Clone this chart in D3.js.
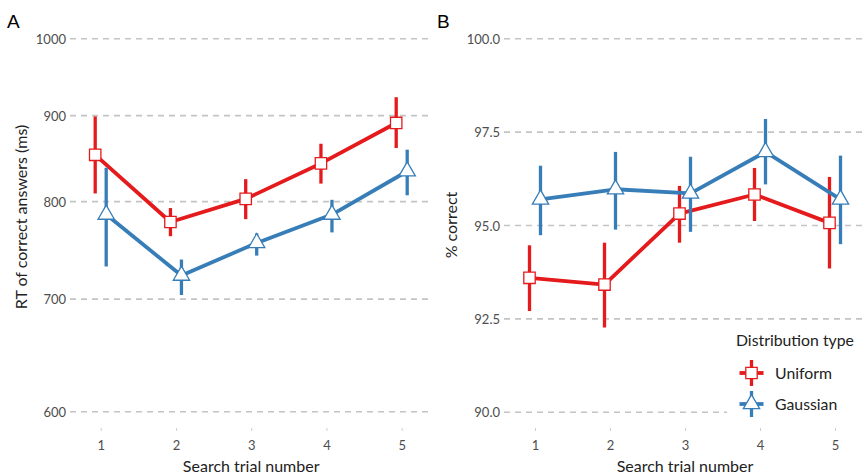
<!DOCTYPE html>
<html><head><meta charset="utf-8">
<script src="https://cdn.jsdelivr.net/npm/d3@7"></script>
<style>body{margin:0;background:#fff}svg{display:block}</style>
</head><body>
<svg id="c" width="865" height="476"></svg>
<script>
const trials = [1, 2, 3, 4, 5];
const seriesNames = ["Uniform", "Gaussian"];
// Panel A: RT of correct answers (ms)
const rtUniform = [853, 778, 803, 843, 891];
const rtUniformLo = [809, 763, 781, 820, 861];
const rtUniformHi = [899, 793, 825, 866, 923];
const rtGaussian = [786, 723, 756, 786, 834];
const rtGaussianLo = [732, 704, 743, 767, 807];
const rtGaussianHi = [838, 739, 766, 802, 859];
// Panel B: % correct
const pcUniform = [93.60, 93.42, 95.32, 95.83, 95.07];
const pcUniformLo = [92.71, 92.27, 94.54, 95.12, 93.85];
const pcUniformHi = [94.47, 94.54, 96.06, 96.54, 96.30];
const pcGaussian = [95.70, 95.97, 95.86, 96.97, 95.70];
const pcGaussianLo = [94.74, 94.89, 94.83, 96.10, 94.50];
const pcGaussianHi = [96.60, 96.97, 96.84, 97.85, 96.87];
const rtTicks = [600, 700, 800, 900, 1000];
const pcTicks = [90, 92.5, 95, 97.5, 100];
const colors = {Uniform: "#e41a1c", Gaussian: "#377eb8"};
const FONT = "Lato, 'Open Sans', sans-serif";

const svg = d3.select("#c");

function panel(opts) {
  const g = svg.append("g");
  const x = d3.scaleLinear().domain([1, 5]).range(opts.xRange);
  const y = opts.y;
  g.selectAll("line.grid").data(opts.ticks).join("line")
    .attr("x1", opts.gridX[0]).attr("x2", opts.gridX[1])
    .attr("y1", d => y(d)).attr("y2", d => y(d))
    .attr("stroke", "#c4c4c4").attr("stroke-width", 1.6).attr("stroke-dasharray", "6,5");
  const ya = g.append("g").attr("transform", `translate(${opts.gridX[0] - 4},0)`)
    .call(d3.axisLeft(y).tickValues(opts.ticks).tickFormat(opts.fmt).tickSize(0).tickPadding(0));
  ya.select(".domain").remove();
  ya.selectAll("text").attr("font-family", FONT).attr("font-size", 13).attr("fill", "#4d4d4d").attr("dy", "0.35em");
  const xa = g.append("g").attr("transform", `translate(0,${opts.axisY})`)
    .call(d3.axisBottom(x).tickValues(trials).tickFormat(d3.format("d")).tickSize(3).tickPadding(10));
  xa.select(".domain").remove();
  xa.selectAll("line").attr("stroke", "#cfcfcf").attr("stroke-width", 1);
  xa.selectAll("text").attr("font-family", FONT).attr("font-size", 13).attr("fill", "#4d4d4d");
  g.append("text").attr("x", (opts.xRange[0] + opts.xRange[1]) / 2).attr("y", 472)
    .attr("text-anchor", "middle").attr("font-family", FONT).attr("font-size", 16).attr("fill", "#222")
    .text("Search trial number");
  g.append("text").attr("transform", `translate(${opts.yTitleX},${opts.yTitleY}) rotate(-90)`)
    .attr("text-anchor", "middle").attr("font-family", FONT).attr("font-size", 16).attr("fill", "#222")
    .text(opts.yTitle);
  g.append("text").attr("x", opts.letterX).attr("y", 28).attr("font-family", "'Liberation Sans', Arial, sans-serif")
    .attr("font-size", 19).attr("fill", "#000").text(opts.letter);

  opts.series.forEach((s, si) => {
    const dx = si === 0 ? -5.5 : 5.5;
    const col = colors[s.name];
    const pts = trials.map((t, i) => ({t, v: s.v[i], lo: s.lo[i], hi: s.hi[i]}));
    const sg = g.append("g");
    sg.append("path").datum(pts)
      .attr("d", d3.line().x(d => x(d.t) + dx).y(d => y(d.v)))
      .attr("fill", "none").attr("stroke", col).attr("stroke-width", 3.8).attr("stroke-linejoin", "round");
    sg.selectAll("line.err").data(pts).join("line")
      .attr("x1", d => x(d.t) + dx).attr("x2", d => x(d.t) + dx)
      .attr("y1", d => y(d.lo)).attr("y2", d => y(d.hi))
      .attr("stroke", col).attr("stroke-width", 3.3);
    const sym = s.name === "Uniform" ? d3.symbolSquare : d3.symbolTriangle;
    const size = s.name === "Uniform" ? 130 : 115;
    sg.selectAll("path.pt").data(pts).join("path")
      .attr("transform", d => `translate(${x(d.t) + dx},${y(d.v)})`)
      .attr("d", d3.symbol().type(sym).size(size))
      .attr("fill", "#fff").attr("stroke", col).attr("stroke-width", 1.3);
  });
  return g;
}

const yA = d3.scaleLog().domain([600, 1000]).range([411.7, 38.7]);
panel({
  xRange: [100.7, 401.7], gridX: [70, 430], y: yA, ticks: rtTicks, fmt: d3.format("d"),
  axisY: 428, yTitle: "RT of correct answers (ms)", yTitleX: 27, yTitleY: 217, letter: "A", letterX: 7,
  series: [
    {name: "Uniform", v: rtUniform, lo: rtUniformLo, hi: rtUniformHi},
    {name: "Gaussian", v: rtGaussian, lo: rtGaussianLo, hi: rtGaussianHi}
  ]
});
const yB = d3.scaleLinear().domain([90, 100]).range([412.3, 38.7]);
panel({
  xRange: [535, 835], gridX: [504, 865], y: yB, ticks: pcTicks, fmt: d3.format(".1f"),
  axisY: 428, yTitle: "% correct", yTitleX: 457, yTitleY: 225, letter: "B", letterX: 437,
  series: [
    {name: "Uniform", v: pcUniform, lo: pcUniformLo, hi: pcUniformHi},
    {name: "Gaussian", v: pcGaussian, lo: pcGaussianLo, hi: pcGaussianHi}
  ]
});

const lg = svg.append("g");
lg.append("rect").attr("x", 727).attr("y", 325).attr("width", 138).attr("height", 97).attr("fill", "#fff");
lg.append("text").attr("x", 736).attr("y", 346).attr("font-family", FONT).attr("font-size", 15.8).attr("fill", "#222")
  .text("Distribution type");
seriesNames.forEach((n, i) => {
  const cy = 373 + i * 31, cx = 751.5, col = colors[n];
  lg.append("line").attr("x1", cx - 12).attr("x2", cx + 12).attr("y1", cy).attr("y2", cy)
    .attr("stroke", col).attr("stroke-width", 3.8);
  lg.append("line").attr("x1", cx).attr("x2", cx).attr("y1", cy - 13).attr("y2", cy + 13)
    .attr("stroke", col).attr("stroke-width", 3.3);
  lg.append("path").attr("transform", `translate(${cx},${cy})`)
    .attr("d", d3.symbol().type(n === "Uniform" ? d3.symbolSquare : d3.symbolTriangle).size(n === "Uniform" ? 130 : 115))
    .attr("fill", "#fff").attr("stroke", col).attr("stroke-width", 1.3);
  lg.append("text").attr("x", 775).attr("y", cy).attr("dy", "0.35em").attr("font-family", FONT)
    .attr("font-size", 15.8).attr("fill", "#222").text(n);
});
</script>
</body></html>
